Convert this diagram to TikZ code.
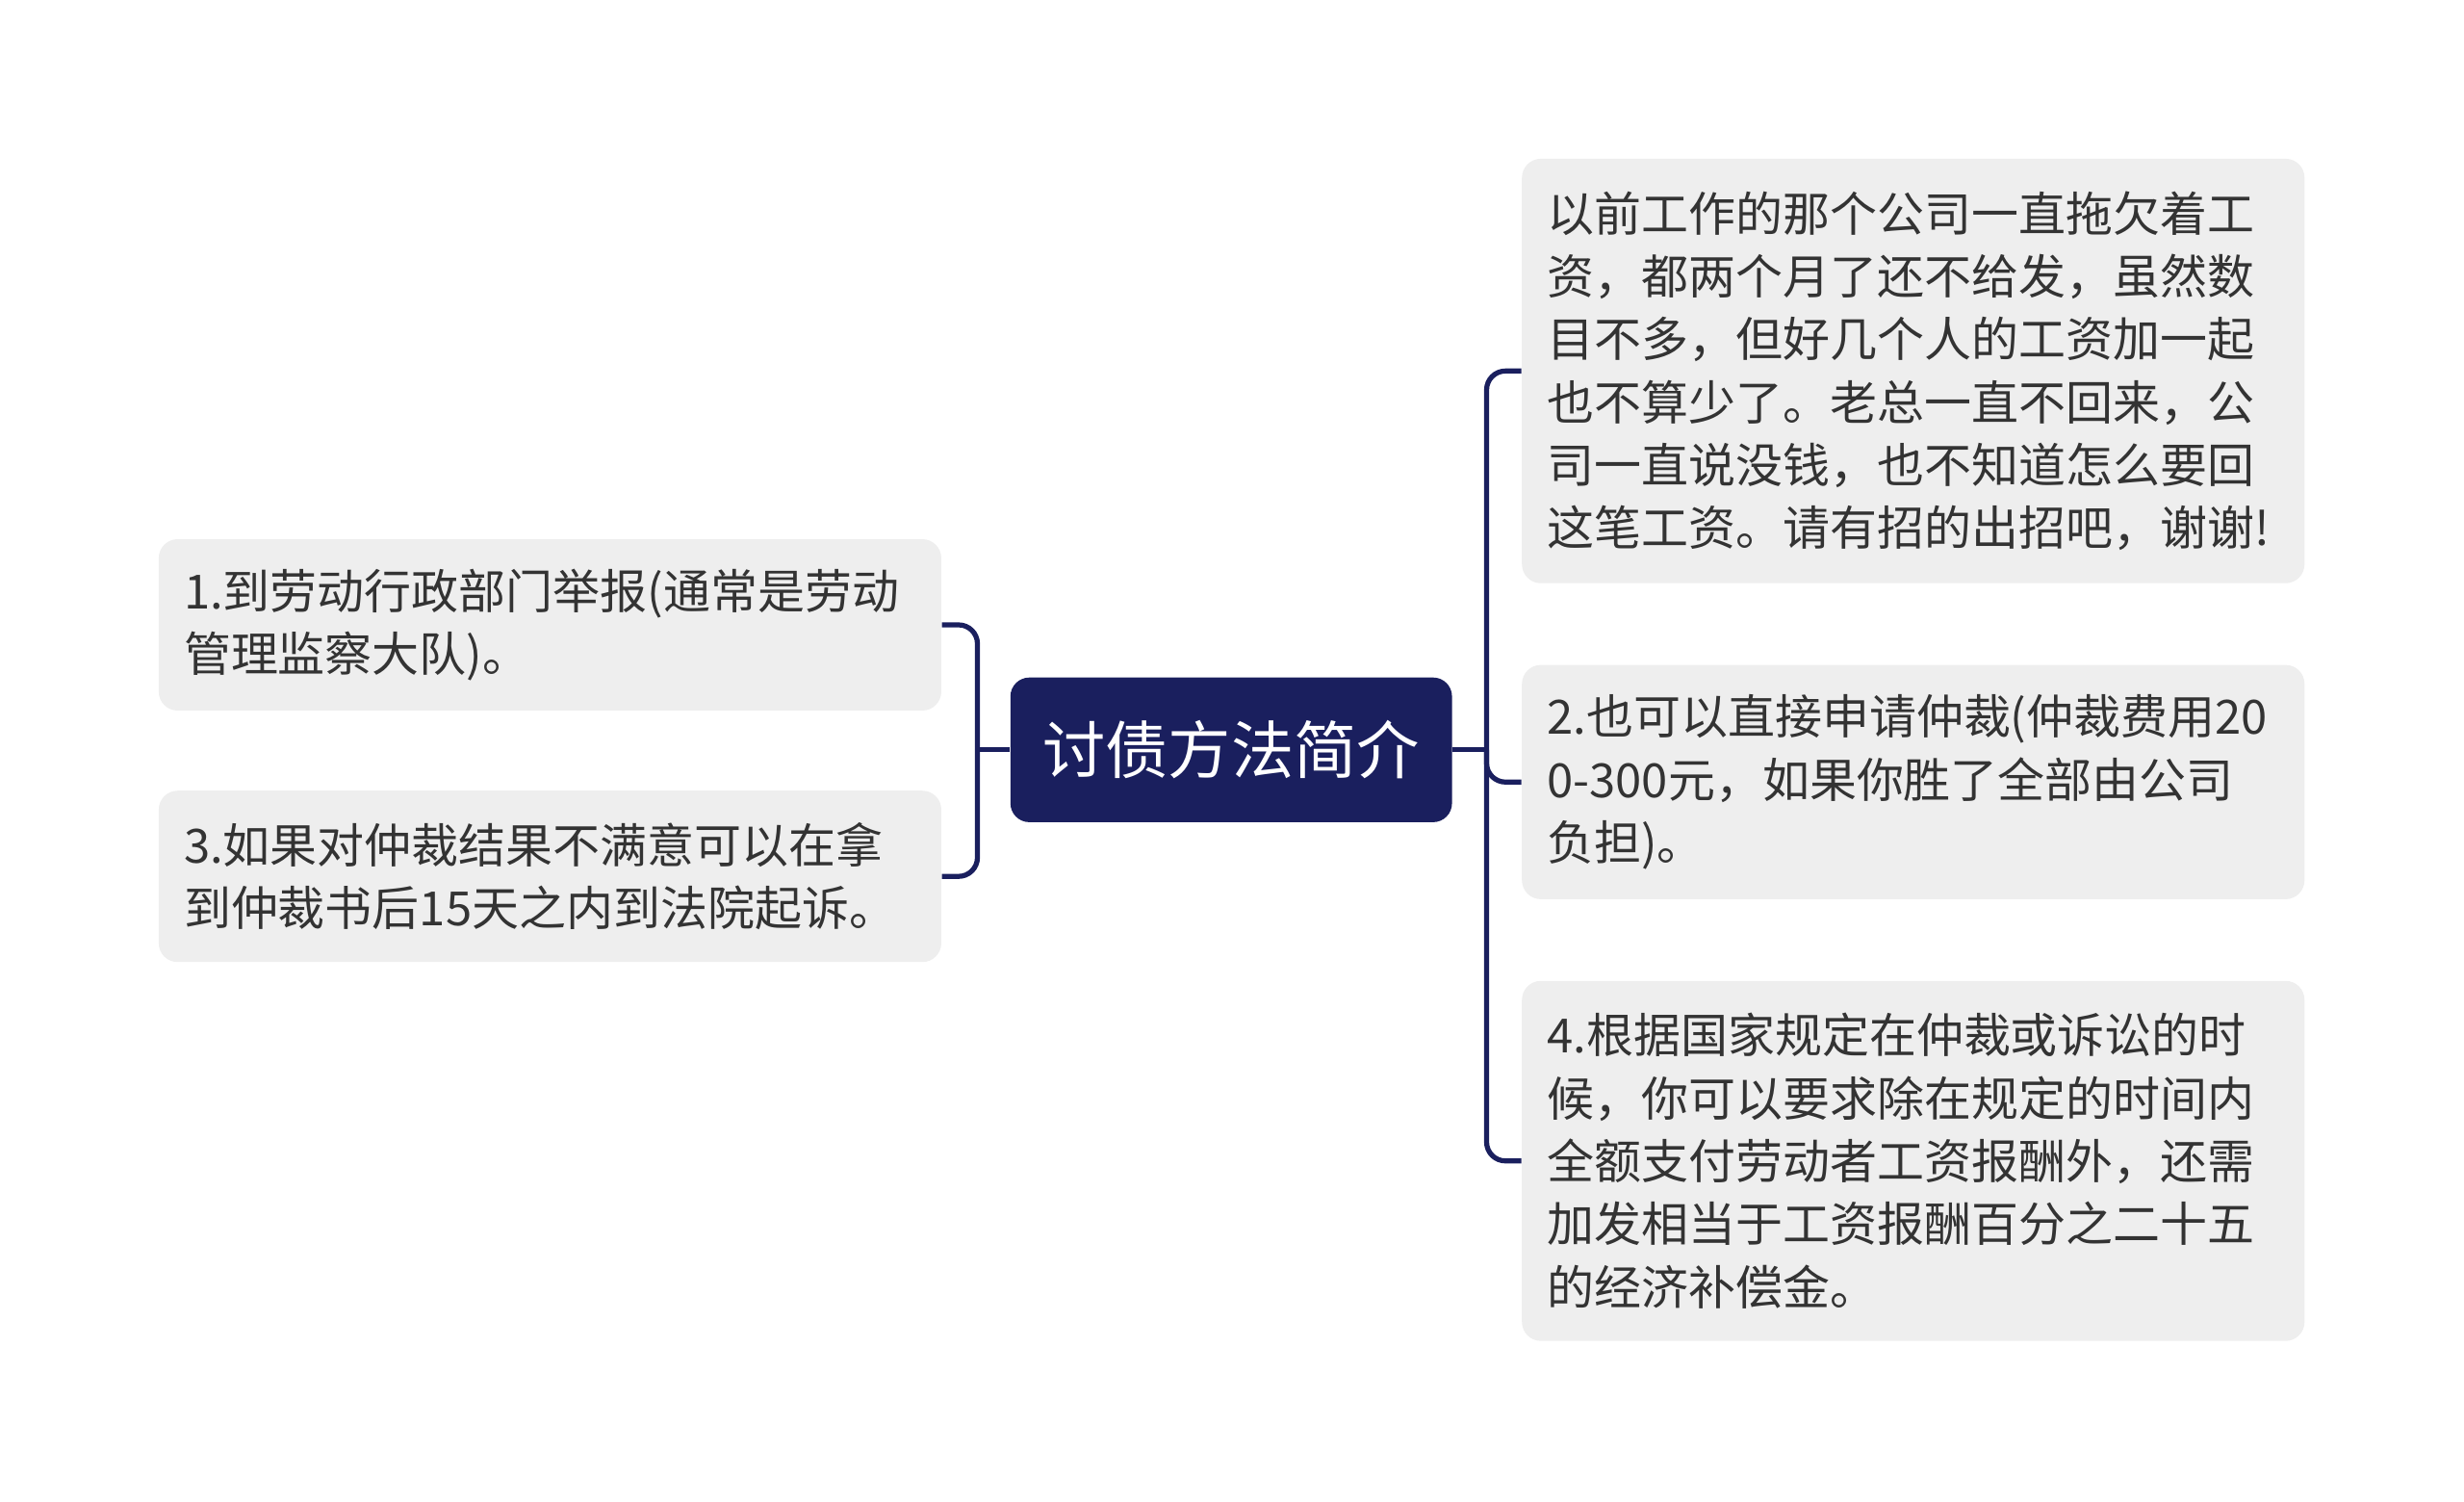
\documentclass[tikz,border=0pt]{standalone}
\usepackage{fontspec}
\newfontfamily\cjk{Noto Sans CJK SC}
\definecolor{navy}{HTML}{1A1F5E}
\definecolor{leafgray}{HTML}{EEEEEE}
\definecolor{textgray}{HTML}{333333}

\begin{document}
\begin{tikzpicture}[x=0.5pt, y=-0.5pt,
		leaf/.style={fill=leafgray, rounded corners=6pt, text width=233pt, inner xsep=8pt, inner ysep=0pt, align=left, text=textgray, font=\cjk\fontsize{15pt}{20pt}\selectfont},
		root/.style={fill=navy, rounded corners=6pt, minimum width=140.5pt, minimum height=46pt, text=white, font=\cjk\fontsize{20pt}{24pt}\selectfont},
		branch/.style={draw=navy, line width=1.6pt, rounded corners=6pt}]
				\useasboundingbox (0,0) rectangle (1568,955);
				\node[root] (C)at(783.5, 477) {讨债方法简介};
				\node[leaf, minimum height=54.5pt] (L1)at(350, 397.5) {1.到劳动行政部门举报(通常是劳动\\管理监察大队)。};
				\node[leaf, minimum height=54.5pt] (L3)at(350, 557.5) {3.如果对仲裁结果不满意可以在拿\\到仲裁书后15天之内到法院起诉。};
				\node[leaf, minimum height=135pt] (R0)at(1217.5, 236) {以前工作的那个公司一直拖欠着工\\资，都两个月了还不给发，虽然数\\目不多，但好几个人的工资加一起\\也不算少了。老总一直不回来，公\\司一直说没钱，也不知道怎么要回\\这笔工资。请有招的出招吧，谢谢!};
				\node[leaf, minimum height=74.5pt] (R2)at(1217.5, 497.5) {2.也可以直接申请仲裁(仲裁费用20\\0-300元，如果你胜了全部由公司\\负担)。};
				\node[leaf, minimum height=114.5pt] (R4)at(1217.5, 738.5) {4.根据国家规定在仲裁或诉讼的时\\候，你可以要求除在规定的时间内\\全额支付劳动者工资报酬外，还需\\加发相当于工资报酬百分之二十五\\的经济补偿金。};
				\coordinate (LJ)at(622, 477);
				\coordinate (RJ)at(946, 477);
				\draw[branch] (C.west) -- (LJ);
				\draw[branch] (LJ) |- (L1.east);
				\draw[branch] (LJ) |- (L3.east);
				\draw[branch] (C.east) -- (RJ);
				\draw[branch] (RJ) |- (R0.west);
				\draw[branch] (RJ) |- (R2.west);
				\draw[branch] (RJ) |- (R4.west);
			\end{tikzpicture}
\end{document}
